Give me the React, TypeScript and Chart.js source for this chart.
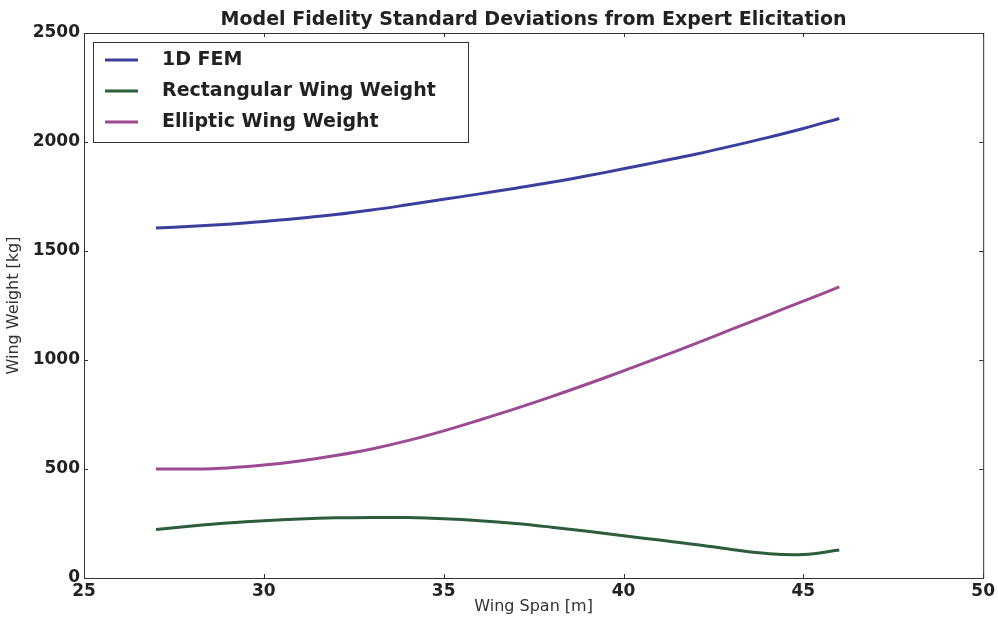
import React, { useEffect, useRef } from "react";
import { Chart, registerables } from "chart.js";

Chart.register(...registerables);

const spans = [27, 28, 29, 30, 31, 32, 33, 34, 35, 36, 37, 38, 39, 40, 41, 42, 43, 44, 45, 46];
const fem1d = [1605, 1613, 1623, 1635, 1650, 1667, 1688, 1712, 1737, 1762, 1788, 1815, 1845, 1877, 1910, 1944, 1981, 2020, 2062, 2108];
const rectWing = [222, 238, 252, 263, 271, 276, 278, 277, 272, 263, 250, 233, 214, 194, 174, 154, 131, 112, 108, 128];
const ellipWing = [500, 500, 505, 518, 537, 562, 592, 630, 675, 725, 777, 832, 890, 950, 1012, 1075, 1140, 1205, 1270, 1335];
const xTicks = [25, 30, 35, 40, 45, 50];
const yTicks = [0, 500, 1000, 1500, 2000, 2500];

const seriesNames = ["1D FEM", "Rectangular Wing Weight", "Elliptic Wing Weight"];
const seriesColors = ["#3a3f9e", "#2c5e3b", "#9c4b92"];
const titleText = "Model Fidelity Standard Deviations from Expert Elicitation";

const FONT = "'DejaVu Sans', sans-serif";

export default function App() {
  const ref = useRef<HTMLCanvasElement | null>(null);
  useEffect(() => {
    document.body.style.margin = "0";
    const canvas = ref.current!;
    const series = [fem1d, rectWing, ellipWing];
    const framePlugin = {
      id: "frame",
      afterDraw(chart: any) {
        const ctx = chart.ctx;
        const a = chart.chartArea;
        const xs = chart.scales.x;
        const ys = chart.scales.y;
        ctx.save();
        ctx.strokeStyle = "#333";
        ctx.lineWidth = 1;
        ctx.strokeRect(a.left + 0.5, a.top + 0.5, a.right - a.left, a.bottom - a.top);
        xTicks.forEach((v) => {
          const px = Math.round(xs.getPixelForValue(v)) + 0.5;
          ctx.beginPath();
          ctx.moveTo(px, a.bottom);
          ctx.lineTo(px, a.bottom - 4);
          ctx.moveTo(px, a.top);
          ctx.lineTo(px, a.top + 4);
          ctx.stroke();
        });
        yTicks.forEach((v) => {
          const py = Math.round(ys.getPixelForValue(v)) + 0.5;
          ctx.beginPath();
          ctx.moveTo(a.left, py);
          ctx.lineTo(a.left + 4, py);
          ctx.moveTo(a.right, py);
          ctx.lineTo(a.right - 4, py);
          ctx.stroke();
        });
        ctx.fillStyle = "#222";
        ctx.font = `bold 19px ${FONT}`;
        ctx.textAlign = "center";
        ctx.textBaseline = "alphabetic";
        ctx.fillText(titleText, (a.left + a.right) / 2, 25);
        const lx = a.left + 9;
        const ly = a.top + 9;
        ctx.fillStyle = "#fff";
        ctx.fillRect(lx, ly, 375, 100);
        ctx.strokeStyle = "#333";
        ctx.strokeRect(lx + 0.5, ly + 0.5, 375, 100);
        ctx.font = `bold 19px ${FONT}`;
        ctx.textAlign = "left";
        ctx.textBaseline = "middle";
        seriesNames.forEach((name, i) => {
          const yy = ly + 18 + i * 31;
          ctx.strokeStyle = seriesColors[i];
          ctx.lineWidth = 3;
          ctx.beginPath();
          ctx.moveTo(lx + 12, yy);
          ctx.lineTo(lx + 45, yy);
          ctx.stroke();
          ctx.fillStyle = "#222";
          ctx.fillText(name, lx + 69, yy);
        });
        ctx.restore();
      },
    };
    const chart = new Chart(canvas, {
      type: "line",
      data: {
        datasets: series.map((s, i) => ({
          label: seriesNames[i],
          data: spans.map((x, j) => ({ x, y: s[j] })),
          borderColor: seriesColors[i],
          backgroundColor: seriesColors[i],
          borderWidth: 3,
          pointRadius: 0,
          tension: 0.4,
          fill: false,
        })),
      },
      options: {
        animation: false,
        responsive: false,
        layout: { padding: { top: 33, right: 14, bottom: 0, left: 0 } },
        plugins: { legend: { display: false }, title: { display: false }, tooltip: { enabled: false } },
        scales: {
          x: {
            type: "linear",
            min: 25,
            max: 50,
            afterBuildTicks: (s: any) => { s.ticks = xTicks.map((v) => ({ value: v })); },
            afterFit: (s: any) => { s.height = 40; },
            grid: { display: false, drawTicks: false },
            border: { display: false },
            ticks: { color: "#222", font: { family: FONT, size: 17, weight: "bold" }, padding: 3, maxRotation: 0, callback: (v: any) => String(v) },
            title: { display: true, text: "Wing Span [m]", color: "#333", font: { family: FONT, size: 16 }, padding: { top: 0, bottom: 2 } },
          },
          y: {
            type: "linear",
            min: 0,
            max: 2500,
            afterBuildTicks: (s: any) => { s.ticks = yTicks.map((v) => ({ value: v })); },
            afterFit: (s: any) => { s.width = 84; },
            grid: { display: false, drawTicks: false },
            border: { display: false },
            ticks: { color: "#222", font: { family: FONT, size: 17, weight: "bold" }, padding: 4, callback: (v: any) => String(v) },
            title: { display: true, text: "Wing Weight [kg]", color: "#333", font: { family: FONT, size: 16 }, padding: { top: 4, bottom: 0 } },
          },
        },
      },
      plugins: [framePlugin],
    } as any);
    return () => chart.destroy();
  }, []);
  return (
    <div style={{ width: 998, height: 618, background: "#fff" }}>
      <canvas ref={ref} width={998} height={618} style={{ display: "block" }} />
    </div>
  );
}
